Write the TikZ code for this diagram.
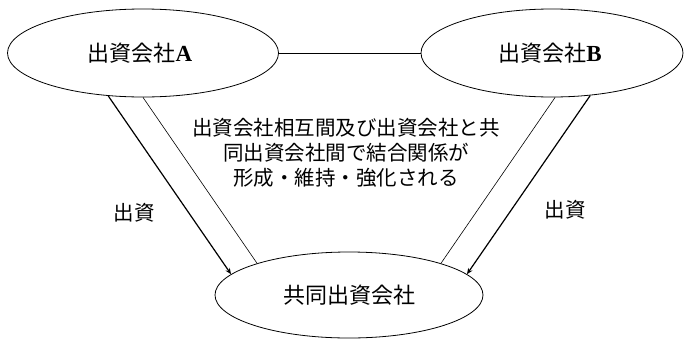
\documentclass[tikz,border=0pt]{standalone}
\usepackage{fontspec}
\setmainfont{Liberation Serif}
\newfontfamily\jp{Noto Sans CJK JP}
\usetikzlibrary{shapes.geometric,arrows.meta}
\tikzset{
  oval/.style={ellipse, draw, line width=0.8pt, inner sep=0pt},
  lbl/.style={font=\jp\fontsize{20.5}{25}\selectfont, align=center},
  big/.style={font=\jp\fontsize{22}{25}\selectfont},
  thin/.style={line width=0.6pt},
  flow/.style={line width=1.2pt, -{Stealth[length=6pt,width=5pt]}},
}
\begin{document}
\begin{tikzpicture}[x=1pt,y=-1pt]
\useasboundingbox (0,0) rectangle (684,343);
\node[oval, minimum width=271pt, minimum height=88pt] (A) at (143,53) {};
\node[oval, minimum width=262pt, minimum height=88pt] (B) at (552,53) {};
\node[oval, minimum width=268pt, minimum height=86pt] (C) at (349,295) {};
\node[lbl, big] (tA) at (140,53) {出資会社\textbf{\rmfamily\fontsize{23}{25}\selectfont A}};
\node[lbl, big] (tB) at (550,53) {出資会社\textbf{\rmfamily\fontsize{23}{25}\selectfont B}};
\node[lbl, big] (tC) at (349,295) {共同出資会社};
\node[lbl] (mid) at (346,153) {出資会社相互間及び出資会社と共\\同出資会社間で結合関係が\\形成・維持・強化される};
\node[lbl] (iL) at (134,213) {出資};
\node[lbl] (iR) at (565,210) {出資};
\draw[thin] (A.east) -- (B.west);
\draw[flow] (A.-129) -- (C.170);
\draw[thin] (A.270) -- (C.161);
\draw[thin] (B.-86) -- (C.19);
\draw[flow] (B.-48) -- (C.10);
\end{tikzpicture}
\end{document}
